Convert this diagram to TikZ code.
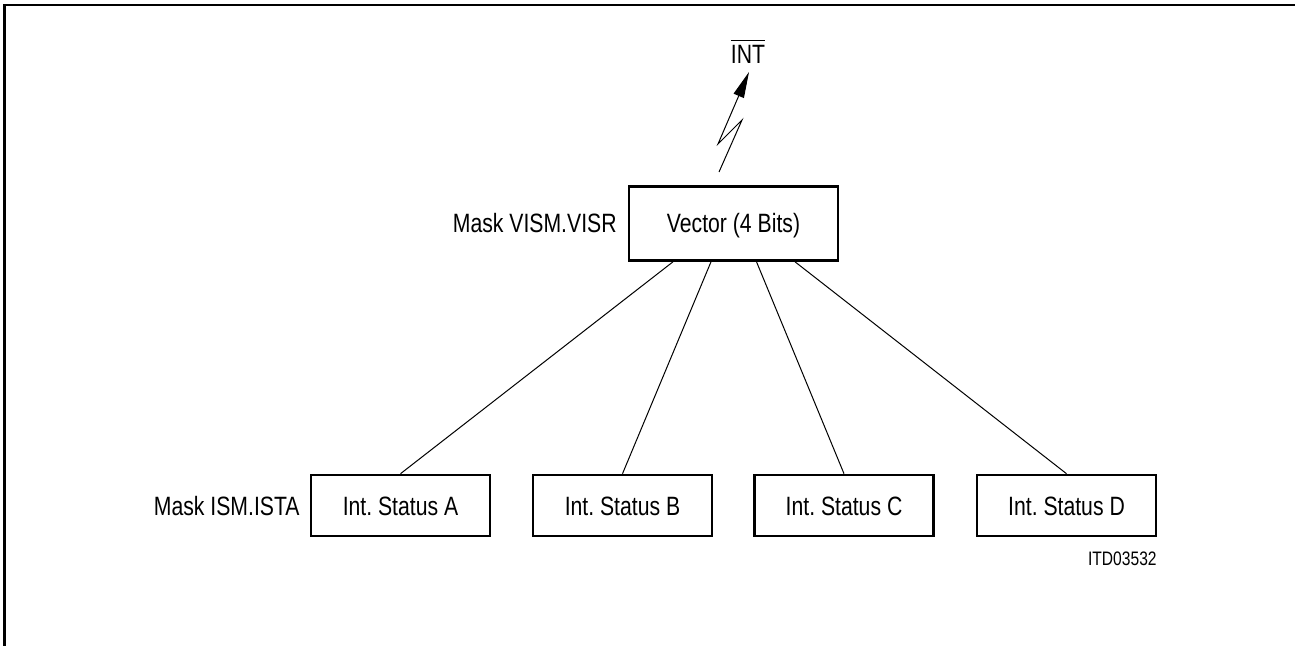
\documentclass[tikz,border=0pt]{standalone}
\usepackage{fontspec}
\setmainfont{Liberation Sans}[FakeStretch=0.8]
\usetikzlibrary{arrows.meta}
\frenchspacing
\newcommand\myovl[1]{\leavevmode\vbox{\hrule height 0.55pt \kern 2.3pt \hbox{#1}}}
\begin{document}
\begin{tikzpicture}[x=0.5pt,y=-0.5pt,
  font=\fontsize{13.25pt}{15pt}\selectfont,
  box/.style={draw, line width=1.3pt, inner sep=0pt, text height=9.5pt, text depth=0pt, align=center},
  vbox/.style={box, minimum width=104.5pt, minimum height=37pt},
  sbox/.style={box, minimum width=89.5pt, minimum height=30.5pt},
  conn/.style={line width=0.5pt},
  lbl/.style={inner sep=0pt}]
\useasboundingbox (0,0) rectangle (1295,646);
\draw[line width=1.1pt] (4.5,646) -- (4.5,5) -- (1295,5);

\node[vbox] (vec) at (733.5,223.5) {Vector (4 Bits)};
\node[sbox] (a) at (400.5,505.5) {Int.\ Status A};
\node[sbox] (b) at (622.5,505.5) {Int.\ Status B};
\node[sbox] (c) at (844,505.5) {Int.\ Status C};
\node[sbox] (d) at (1066.5,505.5) {Int.\ Status D};

\node[lbl, anchor=base east] (mvism) at (617,233) {Mask VISM.VISR};
\node[lbl, anchor=base east] (mism) at (300,515) {Mask ISM.ISTA};
\node[lbl, anchor=base east, font=\fontsize{9.75pt}{11pt}\selectfont] (itd) at (1157,565) {ITD03532};
\node[lbl, anchor=base] (int) at (748,64) {\myovl{INT}};

\draw[conn] ([xshift=-30.25pt]vec.south) -- (a.north);
\draw[conn] ([xshift=-11.25pt]vec.south) -- (b.north);
\draw[conn] ([xshift=11.5pt]vec.south) -- (c.north);
\draw[conn] ([xshift=30.75pt]vec.south) -- (d.north);

\coordinate (l0) at (719,172);
\coordinate (l1) at (742,120);
\coordinate (l2) at (718,144);
\coordinate (l3) at (749,72);
\draw[conn, -{Triangle[length=13pt,width=5.5pt]}] (l0) -- (l1) -- (l2) -- (l3);
\end{tikzpicture}
\end{document}
